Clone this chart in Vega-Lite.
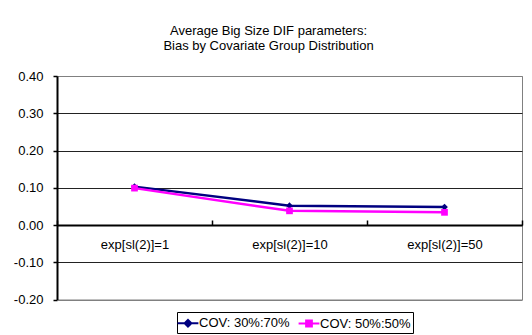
{
  "$schema": "https://vega.github.io/schema/vega-lite/v6.json",
  "width": 465,
  "height": 223.5,
  "autosize": {"type": "none"},
  "padding": {"left": 57, "top": 76, "right": 10, "bottom": 35.5},
  "background": "#ffffff",
  "config": {
    "locale": {"number": {"decimal": ".", "thousands": ",", "grouping": [3], "currency": ["$", ""], "minus": "-"}},
    "font": "Liberation Sans",
    "view": {"stroke": "#808080", "strokeWidth": 1}
  },
  "title": {
    "text": ["Average Big Size DIF parameters:", "Bias by Covariate Group Distribution"],
    "font": "Liberation Sans",
    "fontSize": 13,
    "fontWeight": "normal",
    "color": "#000000",
    "lineHeight": 15,
    "dx": -21,
    "offset": 17
  },
  "data": {
    "values": [
      {"setting": "exp[sl(2)]=1", "series": "COV: 30%:70%", "bias": 0.103},
      {"setting": "exp[sl(2)]=10", "series": "COV: 30%:70%", "bias": 0.052},
      {"setting": "exp[sl(2)]=50", "series": "COV: 30%:70%", "bias": 0.048},
      {"setting": "exp[sl(2)]=1", "series": "COV: 50%:50%", "bias": 0.099},
      {"setting": "exp[sl(2)]=10", "series": "COV: 50%:50%", "bias": 0.038},
      {"setting": "exp[sl(2)]=50", "series": "COV: 50%:50%", "bias": 0.034}
    ]
  },
  "encoding": {
    "x": {
      "field": "setting",
      "type": "nominal",
      "sort": ["exp[sl(2)]=1", "exp[sl(2)]=10", "exp[sl(2)]=50"],
      "scale": {"paddingInner": 0, "paddingOuter": 0},
      "axis": {
        "title": null,
        "orient": "bottom",
        "offset": -74.5,
        "labelAngle": 0,
        "labelFont": "Liberation Sans",
        "labelFontSize": 13,
        "labelColor": "#000000",
        "labelPadding": 18,
        "domainColor": "#000000",
        "domainWidth": 2,
        "tickBand": "extent",
        "tickSize": -5,
        "tickColor": "#000000",
        "tickWidth": 1.5
      }
    },
    "y": {
      "field": "bias",
      "type": "quantitative",
      "scale": {"domain": [-0.2, 0.4], "nice": false, "zero": false},
      "axis": {
        "title": null,
        "values": [-0.2, -0.1, 0, 0.1, 0.2, 0.3, 0.4],
        "format": ".2f",
        "labelFont": "Liberation Sans",
        "labelFontSize": 13,
        "labelColor": "#000000",
        "labelPadding": 10,
        "domainColor": "#000000",
        "domainWidth": 2,
        "tickSize": 4,
        "tickColor": "#000000",
        "tickWidth": 1.5,
        "grid": true,
        "gridColor": {"condition": {"test": "datum.value === 0.4 || datum.value === -0.2", "value": "#808080"}, "value": "#222222"},
        "gridWidth": 1
      }
    }
  },
  "layer": [
    {
      "mark": {"type": "line", "strokeWidth": 2.5},
      "encoding": {
        "color": {
          "field": "series",
          "type": "nominal",
          "scale": {"domain": ["COV: 30%:70%", "COV: 50%:50%"], "range": ["#000080", "#FF00FF"]},
          "legend": {
            "title": null,
            "orient": "none",
            "legendX": 120,
            "legendY": 236,
            "direction": "horizontal",
            "padding": 2,
            "strokeColor": "#000000",
            "labelFont": "Liberation Sans",
            "labelFontSize": 13,
            "labelColor": "#000000",
            "labelOffset": 2,
            "columnPadding": 4,
            "symbolSize": 256,
            "symbolStrokeWidth": 2,
            "encode": {
              "symbols": {
                "update": {
                  "shape": {"signal": "datum.value === 'COV: 30%:70%' ? 'M-1.3,0H1.3M0,-0.42L0.42,0L0,0.42L-0.42,0Z' : 'M-1.3,0H1.3M-0.36,-0.36H0.36V0.36H-0.36Z'"},
                  "fill": {"signal": "datum.value === 'COV: 30%:70%' ? '#000080' : '#FF00FF'"},
                  "stroke": {"signal": "datum.value === 'COV: 30%:70%' ? '#000080' : '#FF00FF'"},
                  "strokeWidth": {"value": 2},
                  "opacity": {"value": 1}
                }
              }
            }
          }
        }
      }
    },
    {
      "transform": [{"filter": "datum.series === 'COV: 30%:70%'"}],
      "mark": {"type": "point", "filled": true, "opacity": 1, "shape": "diamond", "color": "#000080", "size": 45}
    },
    {
      "transform": [{"filter": "datum.series === 'COV: 50%:50%'"}],
      "mark": {"type": "point", "filled": true, "opacity": 1, "shape": "square", "color": "#FF00FF", "size": 45}
    }
  ]
}
